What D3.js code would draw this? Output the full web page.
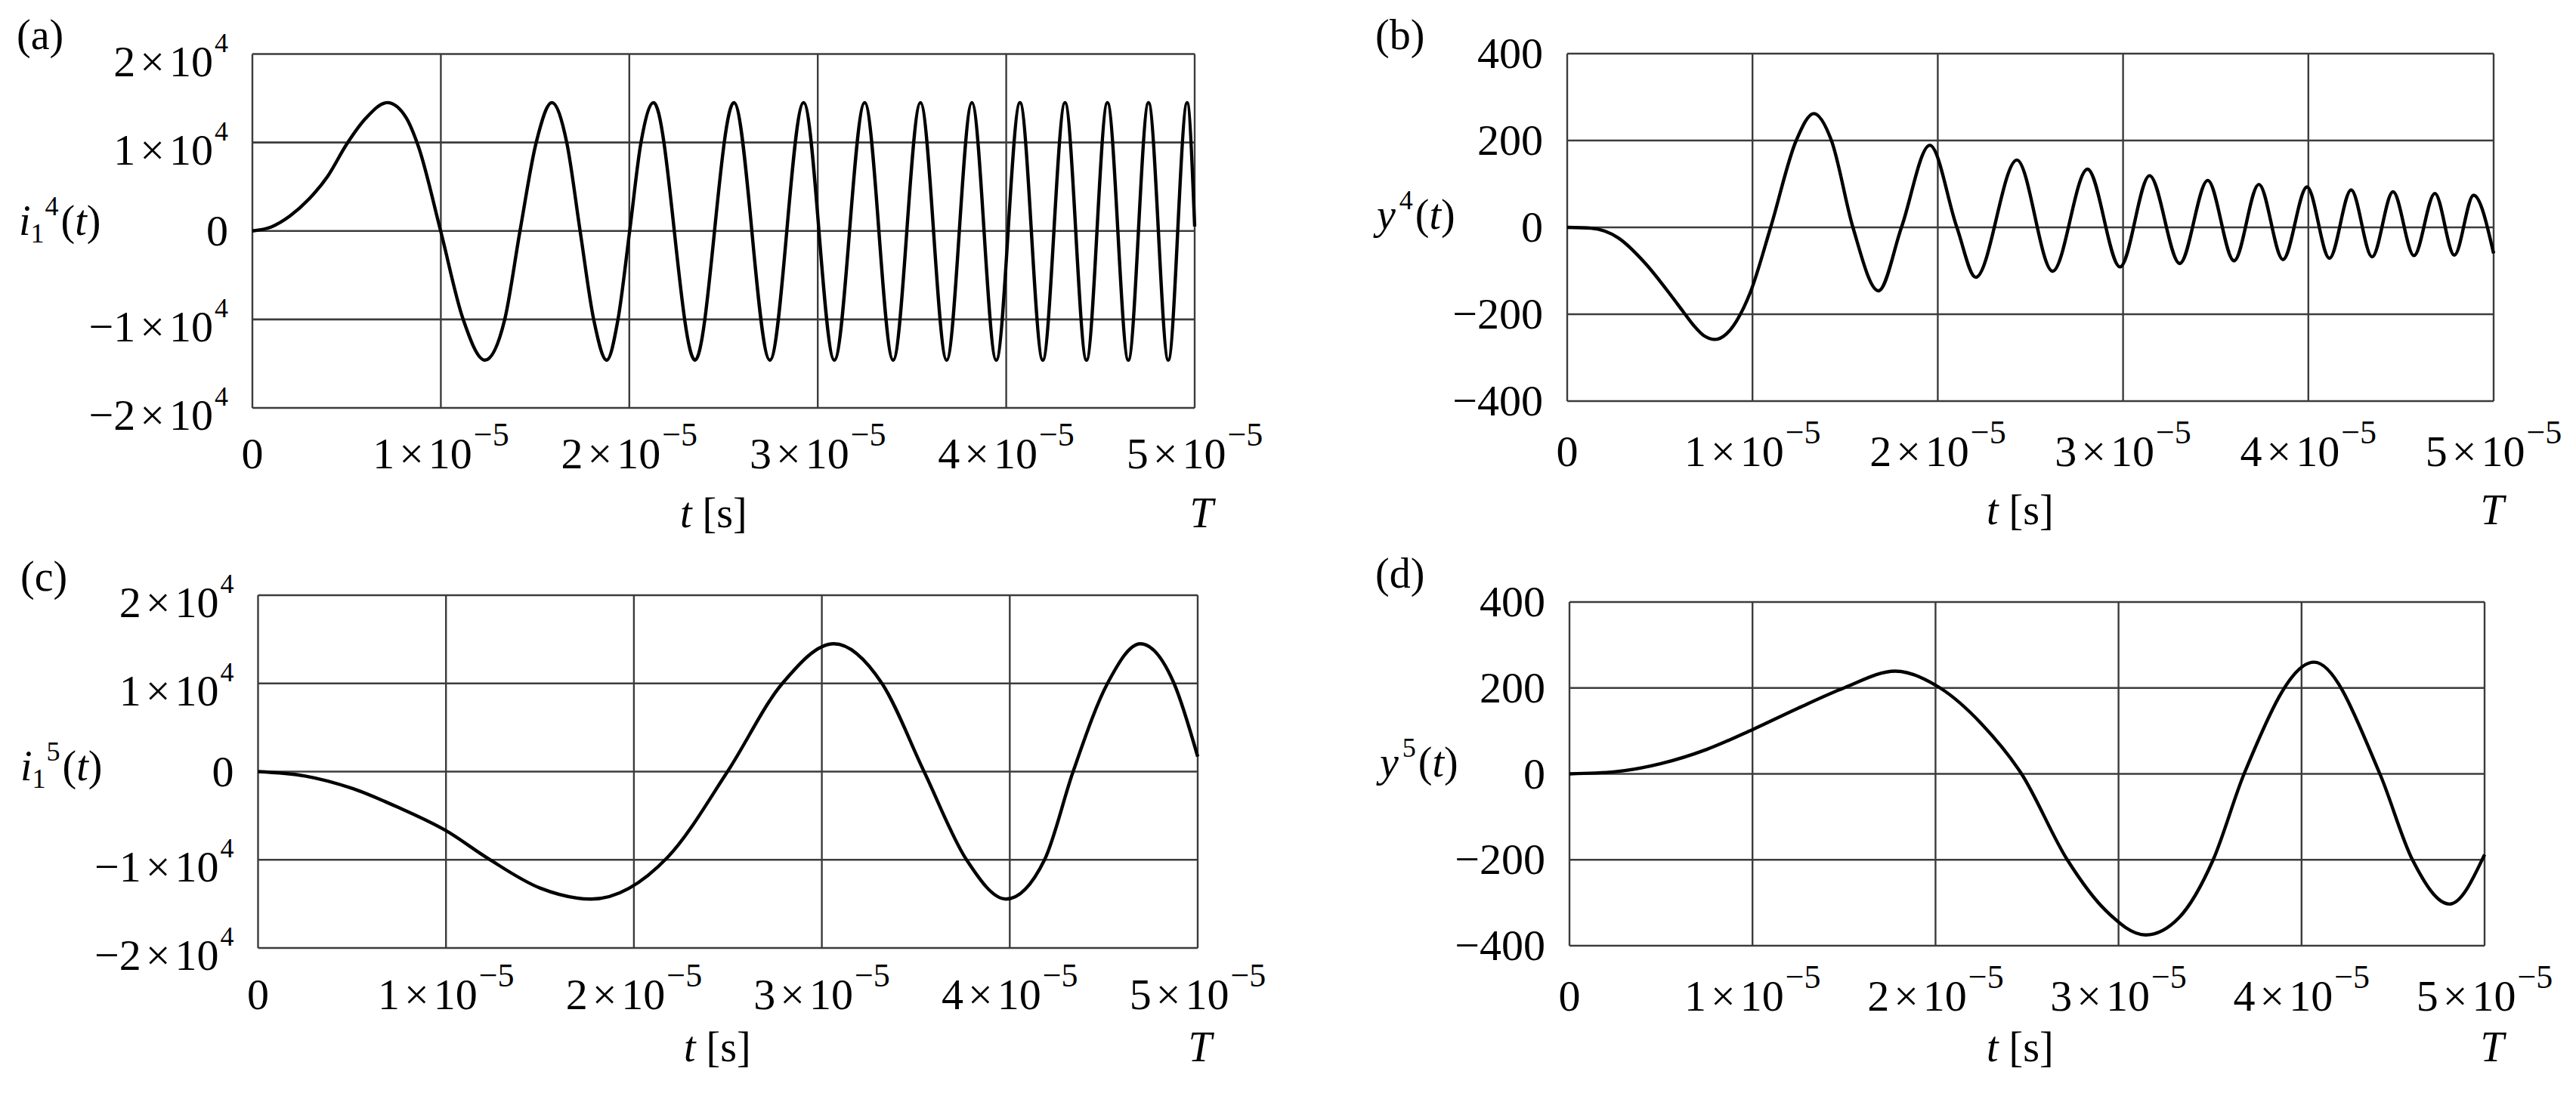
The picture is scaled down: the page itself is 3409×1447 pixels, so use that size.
<!DOCTYPE html>
<html><head><meta charset="utf-8">
<script src="https://cdn.jsdelivr.net/npm/d3@7"></script>
<style>
body{margin:0;background:#fff}
svg{display:block}
text{font-family:"Liberation Serif","Times New Roman",serif;fill:#000}
</style>
</head><body>
<svg id="chart" width="3409" height="1447"></svg>
<script>
// ---- data (time in microseconds) ----
const timeTicks = [0, 10, 20, 30, 40, 50];
const timeTickMantissa = ["0", "1", "2", "3", "4", "5"];
const timeTickExponent = "\u22125";
const currentTicks = [-2, -1, 0, 1, 2];          // x 10^4
const currentTickExponent = "4";
const outputTicks = [-400, -200, 0, 200, 400];

// (a) i1^4(t), values in units of 1e4
const seriesA = [[0,0],[1,0.045],[2,0.17],[3,0.36],[4,0.62],[5,0.98],[6,1.27],[7.16,1.45],[8.16,1.28],[8.8,0.96],[9.99,0],[11.17,-0.99],[12.34,-1.46],[13.39,-1.0],[14.2,0],[15.06,1.0],[15.89,1.45],[16.68,1.0],[17.39,0],[18.11,-1.0],[18.8,-1.46],[19.4,-1.0],[20.02,0],[20.62,1.0],[21.29,1.45],[23.49,-1.46],[25.55,1.45],[27.46,-1.46],[29.25,1.45],[30.88,-1.46],[32.49,1.45],[34.0,-1.46],[35.45,1.45],[36.84,-1.46],[38.18,1.45],[39.47,-1.46],[40.73,1.45],[41.94,-1.46],[43.12,1.45],[44.26,-1.46],[45.37,1.45],[46.48,-1.46],[47.55,1.45],[48.6,-1.46],[49.6,1.45],[50,0.05]];

// (b) y^4(t)
const seriesB = [[0,0],[1.29,-2],[2.75,-24],[4.2,-82],[5.66,-160],[6.24,-193],[6.83,-226],[7.4,-250],[7.99,-258],[8.6,-245],[9.16,-214],[9.88,-150],[10.98,0],[12.36,200],[13.31,262],[14.26,200],[15.42,0],[16.8,-146],[18.04,0],[19.57,189],[21.03,0],[22.05,-115],[24.27,155],[26.2,-101],[28.08,134],[29.84,-91],[31.43,119],[33.06,-83],[34.57,108],[35.99,-77],[37.33,99],[38.63,-74],[39.93,93],[41.14,-71],[42.31,86],[43.44,-68],[44.57,82],[45.7,-65],[46.83,78],[47.88,-64],[48.92,74],[50,-60]];

// (c) i1^5(t), values in units of 1e4
const seriesC = [[0,0],[2.5,-0.05],[5,-0.19],[7.5,-0.41],[10,-0.67],[12.2,-0.98],[15,-1.32],[17.74,-1.445],[21.8,-0.97],[24.98,0],[27.9,1.0],[30.64,1.45],[33.2,1.0],[35.44,0],[37.7,-1.0],[39.8,-1.445],[41.85,-1.0],[43.37,0],[45.2,1.0],[46.95,1.45],[48.74,1.0],[50,0.17]];

// (d) y^5(t)
const seriesD = [[0,0],[2.5,5],[5,24],[7.5,57],[10,103],[12.5,153],[15,200],[17.8,239],[20.25,200],[22.5,117],[24.7,0],[27.2,-200],[29.3,-318],[31.48,-375],[33.3,-335],[35.17,-200],[36.86,0],[40.68,260],[44.28,0],[46.06,-200],[48.09,-303],[50,-188]];

// ---- layout ----
const panels = [
  {tag:"(a)", data:seriesA, yTicks:currentTicks, yExp:true, yDomain:[-2,2], yName:["i","1","4"],
   left:334, right:1581, top:71.5, bottom:540, tagX:22, tagY:65, nameX:25, nameY:311, xLabY:620, axY:698, tsX:900, TX:1590},
  {tag:"(b)", data:seriesB, yTicks:outputTicks, yExp:false, yDomain:[-400,400], yName:["y",null,"4"],
   left:2074, right:3300, top:71, bottom:531, tagX:1820, tagY:65, nameX:1822, nameY:303, xLabY:617, axY:694, tsX:2629, TX:3298},
  {tag:"(c)", data:seriesC, yTicks:currentTicks, yExp:true, yDomain:[-2,2], yName:["i","1","5"],
   left:341.5, right:1585, top:788, bottom:1255, tagX:27, tagY:782, nameX:27, nameY:1033, xLabY:1336, axY:1405, tsX:905, TX:1588},
  {tag:"(d)", data:seriesD, yTicks:outputTicks, yExp:false, yDomain:[-400,400], yName:["y",null,"5"],
   left:2077, right:3288, top:797, bottom:1252, tagX:1820, tagY:778, nameX:1826, nameY:1028, xLabY:1338, axY:1405, tsX:2629, TX:3298}
];

const svg = d3.select("#chart");
const TICK_FS = 58, LAB_FS = 56;
const gridColor = "#3c3c3c";

function numLabel(sel, mant, exp, supFs, supDy) {
  sel.append("tspan").text(mant);
  sel.append("tspan").attr("dx", 6).text("\u00d7");
  sel.append("tspan").attr("dx", 6).text("10");
  sel.append("tspan").attr("dx", 2).attr("dy", supDy).attr("font-size", supFs).text(exp);
}

panels.forEach(p => {
  const x = d3.scaleLinear().domain([0, 50]).range([p.left, p.right]);
  const y = d3.scaleLinear().domain(p.yDomain).range([p.bottom, p.top]);
  const g = svg.append("g");

  // grid (incl. frame)
  g.selectAll("line.h").data(p.yTicks).enter().append("line")
    .attr("x1", p.left).attr("x2", p.right)
    .attr("y1", d => y(d)).attr("y2", d => y(d))
    .attr("stroke", gridColor).attr("stroke-width", 2.6);
  g.selectAll("line.v").data(timeTicks).enter().append("line")
    .attr("y1", p.top).attr("y2", p.bottom)
    .attr("x1", d => x(d)).attr("x2", d => x(d))
    .attr("stroke", gridColor).attr("stroke-width", 2.4);

  // curve
  const line = d3.line().x(d => x(d[0])).y(d => y(d[1])).curve(d3.curveMonotoneX);
  g.append("path").datum(p.data).attr("d", line)
    .attr("fill", "none").attr("stroke", "#000").attr("stroke-width", 4.4)
    .attr("stroke-linejoin", "round");

  // y tick labels
  p.yTicks.forEach(v => {
    const t = g.append("text").attr("x", p.left - 32).attr("text-anchor", "end")
      .attr("font-size", TICK_FS);
    if (p.yExp && v !== 0) {
      t.attr("y", y(v) + 29);
      const m = (v < 0 ? "\u2212" : "") + Math.abs(v);
      numLabel(t, m, currentTickExponent, 36, -32);
    } else {
      t.attr("y", y(v) + 19).text(v < 0 ? "\u2212" + Math.abs(v) : String(v));
    }
  });

  // x tick labels
  timeTicks.forEach((v, i) => {
    const t = g.append("text").attr("x", x(v)).attr("y", p.xLabY)
      .attr("text-anchor", "middle").attr("font-size", TICK_FS);
    if (v === 0) t.text("0");
    else numLabel(t, timeTickMantissa[i], timeTickExponent, 44, -30);
  });

  // axis title t [s] and T
  const ts = g.append("text").attr("x", p.tsX).attr("y", p.axY).attr("font-size", LAB_FS);
  ts.append("tspan").attr("font-style", "italic").text("t");
  ts.append("tspan").text(" [s]");
  g.append("text").attr("x", p.TX).attr("y", p.axY).attr("text-anchor", "middle")
    .attr("font-size", LAB_FS).attr("font-style", "italic").text("T");

  // panel tag
  g.append("text").attr("x", p.tagX).attr("y", p.tagY).attr("font-size", LAB_FS).text(p.tag);

  // y axis name
  const yn = g.append("text").attr("x", p.nameX).attr("y", p.nameY).attr("font-size", LAB_FS);
  yn.append("tspan").attr("font-style", "italic").text(p.yName[0]);
  let shift = 0;
  if (p.yName[1]) {
    yn.append("tspan").attr("font-size", 36).attr("dy", 10).text(p.yName[1]);
    shift = 10;
  }
  yn.append("tspan").attr("font-size", 36).attr("dx", p.yName[1] ? 1 : 5).attr("dy", -26 - shift).text(p.yName[2]);
  yn.append("tspan").attr("dx", 3).attr("dy", 26).text("(");
  yn.append("tspan").attr("font-style", "italic").text("t");
  yn.append("tspan").text(")");
});
</script>
</body></html>
